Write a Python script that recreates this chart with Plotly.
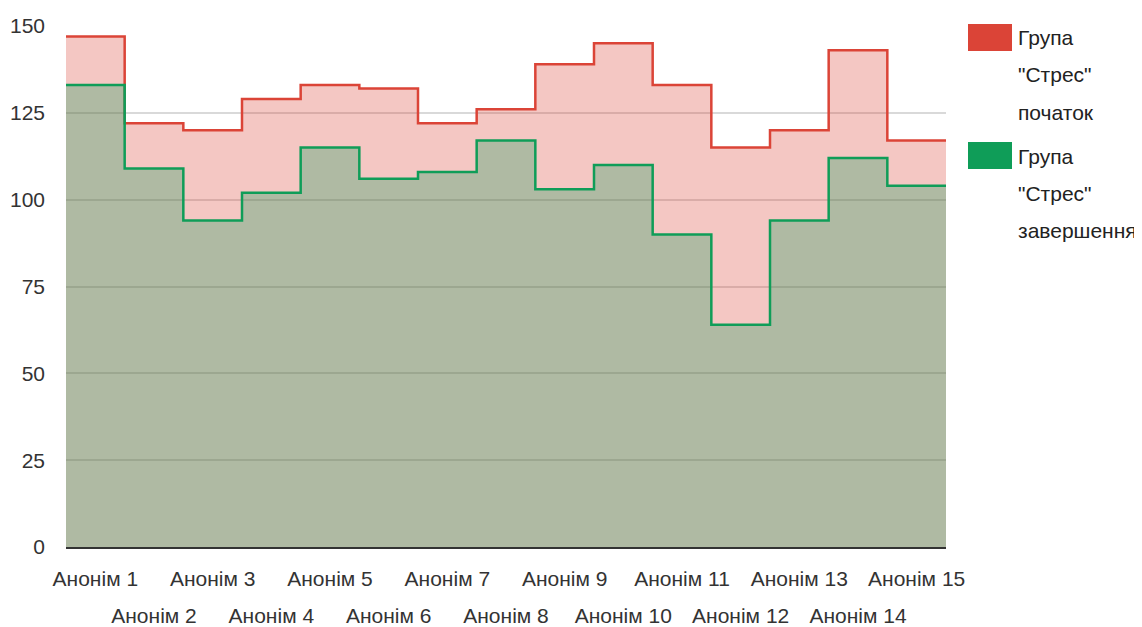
import plotly.graph_objects as go

categories = [f"Анонім {i}" for i in range(1, 16)]
start_vals = [147, 122, 120, 129, 133, 132, 122, 126, 139, 145, 133, 115, 120, 143, 117]
end_vals = [133, 109, 94, 102, 115, 106, 108, 117, 103, 110, 90, 64, 94, 112, 104]
series_names = ['Група "Стрес" початок', 'Група "Стрес" завершення']
y_ticks = [0, 25, 50, 75, 100, 125, 150]

RED = "#db4437"
GREEN = "#0f9d58"
FONT = "Liberation Sans, Arial, sans-serif"

n = len(categories)
x_edges = list(range(n + 1))


def step_y(vals):
    return list(vals) + [vals[-1]]


fig = go.Figure()
fig.add_trace(go.Scatter(
    x=x_edges, y=step_y(start_vals), mode="lines", line_shape="hv",
    line=dict(color=RED, width=2.5), fill="tozeroy",
    fillcolor="rgba(219,68,55,0.3)", name=series_names[0], showlegend=False,
    hoverinfo="skip", xaxis="x", yaxis="y"))
# second series drawn on the overlaid x-axis (same range) which carries the second row of labels
fig.add_trace(go.Scatter(
    x=x_edges, y=step_y(end_vals), mode="lines", line_shape="hv",
    line=dict(color=GREEN, width=2.5), fill="tozeroy",
    fillcolor="rgba(15,157,88,0.3)", name=series_names[1], showlegend=False,
    hoverinfo="skip", xaxis="x2", yaxis="y"))

tick_pos = [i + 0.5 for i in range(n)]
row1_pos = tick_pos[0::2]
row1_txt = categories[0::2]
row2_pos = tick_pos[1::2]
row2_txt = categories[1::2]

# page body has an 8px margin: shift layout so the plot lands where the reference has it
OFF = 8
W, H = 1142, 627
L, T = 66 - OFF, 26 - OFF
R = W - (946 - OFF)
B = H - (547 - OFF)
pw, ph = W - L - R, H - T - B


def px_x(px):
    return (px - OFF - L) / pw


def px_y(py):
    return (H - B - (py - OFF)) / ph


tickfont = dict(family=FONT, size=21, color="#333")
fig.update_layout(
    width=W, height=H,
    margin=dict(l=L, r=R, t=T, b=B, autoexpand=False),
    paper_bgcolor="white", plot_bgcolor="white",
    font=dict(family=FONT, size=21, color="#333"),
    xaxis=dict(range=[0, n], tickmode="array", tickvals=row1_pos, ticktext=row1_txt,
               tickangle=0, automargin=False,
               showgrid=False, zeroline=False, showline=True, linecolor="#333",
               linewidth=2, ticks="", ticklabelstandoff=12,
               tickfont=tickfont, fixedrange=True),
    xaxis2=dict(range=[0, n], overlaying="x", anchor="y", side="bottom",
                tickmode="array", tickvals=row2_pos, ticktext=row2_txt,
                tickangle=0, automargin=False, showgrid=False, zeroline=False,
                showline=False, ticks="", ticklabelstandoff=54,
                tickfont=tickfont, fixedrange=True),
    yaxis=dict(range=[0, 150], tickmode="array", tickvals=y_ticks, automargin=False,
               showgrid=True, gridcolor="#d9d9d9", gridwidth=2, zeroline=False,
               showline=False, ticks="", ticklabelstandoff=20,
               tickfont=tickfont, fixedrange=True),
    showlegend=False,
)

legend_lines = [["Група", "\"Стрес\"", "початок"], ["Група", "\"Стрес\"", "завершення"]]
legend_colors = [RED, GREEN]
legend_tops = [24, 142]
for top, lines, col in zip(legend_tops, legend_lines, legend_colors):
    fig.add_shape(type="rect", xref="paper", yref="paper",
                  x0=px_x(968), x1=px_x(1012), y0=px_y(top), y1=px_y(top + 27),
                  fillcolor=col, line=dict(width=0))
    for k, t in enumerate(lines):
        fig.add_annotation(xref="paper", yref="paper", x=px_x(1016),
                           y=px_y(top + 14 + 37 * k), xanchor="left", yanchor="middle",
                           text=t, showarrow=False,
                           font=dict(family=FONT, size=21, color="#222"))

fig.write_html("out.html")
